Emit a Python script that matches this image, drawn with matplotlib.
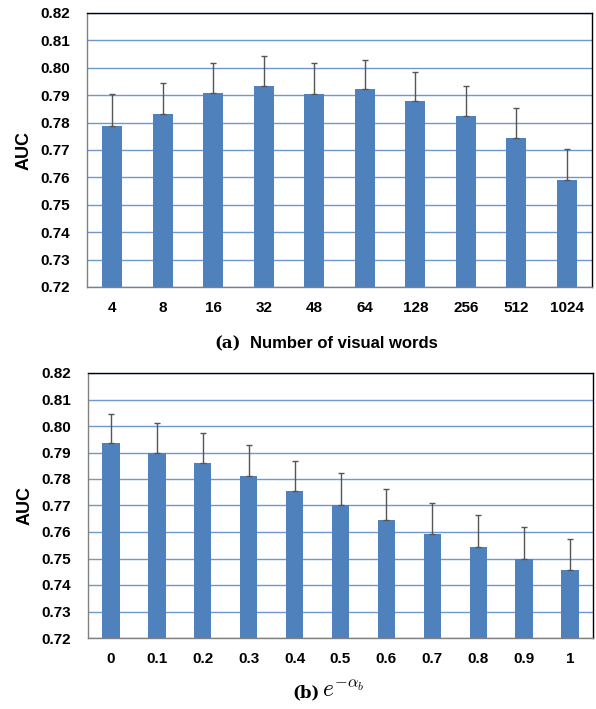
import numpy as np
import matplotlib
matplotlib.use('Agg')
from matplotlib import pyplot as plt

# Data
words_labels = ['4', '8', '16', '32', '48', '64', '128', '256', '512', '1024']
words_auc = [0.7787, 0.7831, 0.7908, 0.7935, 0.7903, 0.7922, 0.7878, 0.7825, 0.7744, 0.7591]
words_err = [0.0117, 0.0112, 0.0110, 0.0108, 0.0113, 0.0108, 0.0107, 0.0109, 0.0108, 0.0113]

alpha_labels = ['0', '0.1', '0.2', '0.3', '0.4', '0.5', '0.6', '0.7', '0.8', '0.9', '1']
alpha_auc = [0.7935, 0.7899, 0.7862, 0.7813, 0.7753, 0.7701, 0.7647, 0.7592, 0.7543, 0.7498, 0.7458]
alpha_err = [0.0109, 0.0111, 0.0110, 0.0115, 0.0116, 0.0120, 0.0114, 0.0119, 0.0121, 0.0120, 0.0117]

yticks = np.arange(0.72, 0.8201, 0.01)

plt.rcParams['font.family'] = ['Liberation Sans', 'DejaVu Sans']
bar_color = '#4F81BD'
grid_color = '#6F98D0'

W, H = 596, 709
fig = plt.figure(figsize=(W / 100, H / 100), dpi=100)


def make_axes(x0, y0, x1, y1):
    return fig.add_axes([x0 / W, 1 - y1 / H, (x1 - x0) / W, (y1 - y0) / H])


def draw(ax, labels, vals, errs, width):
    x = np.arange(len(labels))
    ax.set_axisbelow(True)
    ax.yaxis.grid(True, color=grid_color, linewidth=1)
    ax.bar(x, vals, width=width, color=bar_color, zorder=2)
    ax.errorbar(x, vals, yerr=[np.zeros(len(errs)), errs], fmt='none',
                ecolor='#555555', elinewidth=1, capsize=2, capthick=1, zorder=3)
    ax.set_xlim(-0.5, len(labels) - 0.5)
    ax.set_ylim(0.72, 0.82)
    ax.set_yticks(yticks)
    ax.set_yticklabels(['%.2f' % v for v in yticks], fontsize=11, fontweight='bold')
    ax.set_xticks(x)
    ax.set_xticklabels(labels, fontsize=11, fontweight='bold')
    ax.tick_params(axis='y', length=0, pad=12)
    ax.tick_params(axis='x', length=0, pad=10)
    ax.set_ylabel('AUC', fontsize=13, fontweight='bold', labelpad=6)
    for side in ['left', 'bottom']:
        ax.spines[side].set_color('#808080')
    for side in ['top', 'right']:
        ax.spines[side].set_color('black')
    for s in ax.spines.values():
        s.set_linewidth(1)


ax1 = make_axes(87, 13, 592, 287)
draw(ax1, words_labels, words_auc, words_err, 0.4)

ax2 = make_axes(88, 373, 593, 638)
draw(ax2, alpha_labels, alpha_auc, alpha_err, 0.38)

# Captions
fig.text(241 / W, 1 - 348 / H, '(a)', fontsize=12, fontweight='bold',
         family='DejaVu Serif', ha='right', va='baseline')
fig.text(250 / W, 1 - 348 / H, 'Number of visual words', fontsize=12,
         fontweight='bold', ha='left', va='baseline')
fig.text(292 / W, 1 - 697 / H, '(b)', fontsize=12, fontweight='bold',
         family='DejaVu Serif', ha='left', va='baseline')
fig.text(322 / W, 1 - 697 / H, r'$e^{-\alpha_b}$', fontsize=17,
         ha='left', va='baseline', math_fontfamily='cm')

fig.savefig('out.png', dpi=100)
